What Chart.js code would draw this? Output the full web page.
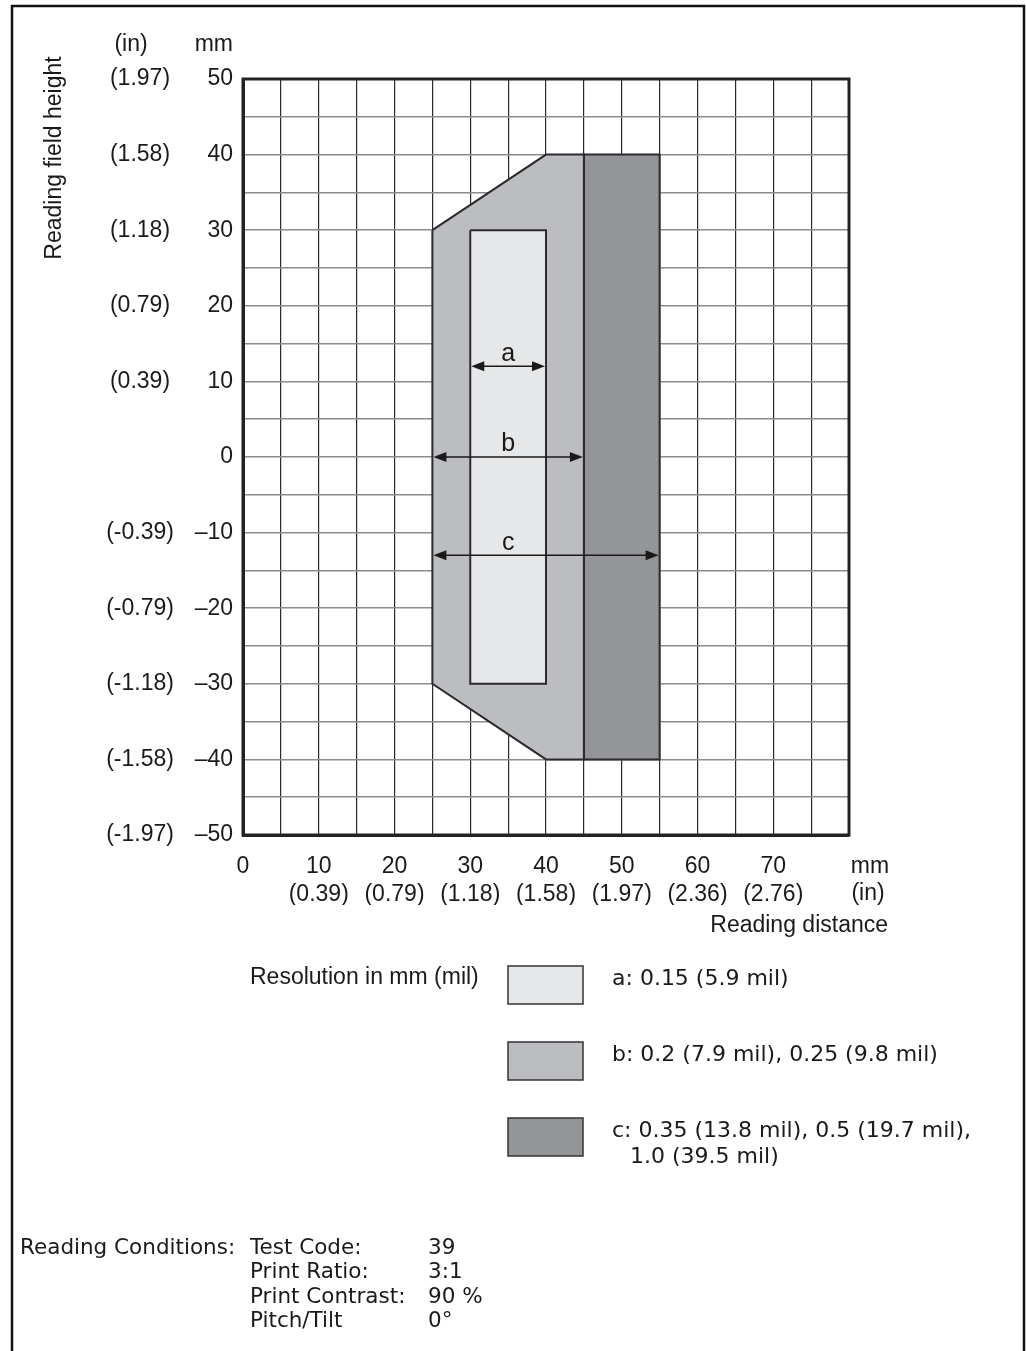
<!DOCTYPE html>
<html>
<head>
<meta charset="utf-8">
<script src="https://cdn.jsdelivr.net/npm/chart.js@4.4.0/dist/chart.umd.min.js"></script>
<style>
  html, body { margin: 0; padding: 0; background: #fff; }
  canvas { display: block; }
</style>
</head>
<body>
<canvas id="fieldChart" width="1026" height="1351"></canvas>
<script>
// reading field outlines, distance (x) / height (y) in mm
const zoneAx = [30, 40, 40, 30, 30]
const zoneAy = [30, 30, -30, -30, 30]
const zoneBx = [25, 40, 45, 45, 40, 25, 25]
const zoneBy = [30, 40, 40, -40, -40, -30, 30]
const zoneCx = [45, 55, 55, 45, 45]
const zoneCy = [40, 40, -40, -40, 40]

// width arrows drawn inside the field
const arrowNames = ['a', 'b', 'c']
const arrowFrom = [30, 25, 25]
const arrowTo = [40, 45, 55]
const arrowAt = [12, 0, -13]
const arrowNameAt = [35, 35, 35]

// tick labels
const xTickValues = [0, 10, 20, 30, 40, 50, 60, 70]
const xTickIn = ['', '(0.39)', '(0.79)', '(1.18)', '(1.58)', '(1.97)', '(2.36)', '(2.76)']
const yTickValues = [50, 40, 30, 20, 10, 0, -10, -20, -30, -40, -50]
const yTickMm = ['50', '40', '30', '20', '10', '0', '\u201310', '\u201320', '\u201330', '\u201340', '\u201350']
const yTickIn = ['(1.97)', '(1.58)', '(1.18)', '(0.79)', '(0.39)', '', '(-0.39)', '(-0.79)', '(-1.18)', '(-1.58)', '(-1.97)']

// legend and reading conditions
const zoneColors = ['#e6e7e8', '#bcbdc0', '#939598']
const legendTexts = [['a: 0.15 (5.9 mil)'], ['b: 0.2 (7.9 mil), 0.25 (9.8 mil)'], ['c: 0.35 (13.8 mil), 0.5 (19.7 mil),', '1.0 (39.5 mil)']]
const conditionNames = ['Test Code:', 'Print Ratio:', 'Print Contrast:', 'Pitch/Tilt']
const conditionValues = ['39', '3:1', '90 %', '0\u00b0']

const chartFont = '"Liberation Sans", Arial, sans-serif'
const noteFont = '"DejaVu Sans", sans-serif'
const ink = '#1a1a1a'

const toPoints = (xs, ys) => xs.map((x, i) => ({ x: x, y: ys[i] }))

const zoneDataset = (xs, ys, color) => ({
  data: toPoints(xs, ys),
  backgroundColor: color,
  borderColor: '#2b2b2b',
  borderWidth: 2,
  borderJoinStyle: 'miter',
  fill: 'shape',
  pointRadius: 0,
  tension: 0
})

function arrowHead (ctx, x, y, dir) {
  ctx.beginPath()
  ctx.moveTo(x, y)
  ctx.lineTo(x - dir * 13, y - 5)
  ctx.lineTo(x - dir * 13, y + 5)
  ctx.closePath()
  ctx.fill()
}

const extras = {
  id: 'extras',
  afterDraw (chart) {
    const { ctx, chartArea } = chart
    const xs = chart.scales.x
    const ys = chart.scales.y
    ctx.save()

    // page frame
    ctx.strokeStyle = '#111'
    ctx.lineWidth = 2.5
    ctx.beginPath()
    ctx.moveTo(12, 1351)
    ctx.lineTo(12, 6)
    ctx.lineTo(1024, 6)
    ctx.lineTo(1024, 1351)
    ctx.stroke()

    // plot frame
    ctx.lineWidth = 3
    ctx.strokeStyle = '#222'
    ctx.strokeRect(chartArea.left, chartArea.top, chartArea.right - chartArea.left, chartArea.bottom - chartArea.top)

    // arrows
    ctx.fillStyle = ink
    ctx.strokeStyle = ink
    ctx.lineWidth = 1.5
    ctx.font = '25px ' + chartFont
    ctx.textAlign = 'center'
    ctx.textBaseline = 'bottom'
    arrowNames.forEach((name, i) => {
      const x1 = xs.getPixelForValue(arrowFrom[i]) + 1
      const x2 = xs.getPixelForValue(arrowTo[i]) - 1
      const y = ys.getPixelForValue(arrowAt[i])
      ctx.beginPath()
      ctx.moveTo(x1 + 10, y)
      ctx.lineTo(x2 - 10, y)
      ctx.stroke()
      arrowHead(ctx, x1, y, -1)
      arrowHead(ctx, x2, y, 1)
      ctx.fillText(name, xs.getPixelForValue(arrowNameAt[i]), y)
    })

    // inch labels on the height axis
    ctx.font = '23px ' + chartFont
    ctx.textBaseline = 'middle'
    yTickValues.forEach((v, i) => {
      ctx.fillText(yTickIn[i], 140, ys.getPixelForValue(v))
    })
    ctx.fillText('(in)', 131, 45)
    ctx.textAlign = 'right'
    ctx.fillText('mm', 233, 45)

    // unit labels at the end of the distance axis
    ctx.textAlign = 'center'
    ctx.fillText('mm', 870, 867)
    ctx.fillText('(in)', 868, 894)
    ctx.textAlign = 'right'
    ctx.fillText('Reading distance', 888, 926)

    // height axis title
    ctx.save()
    ctx.translate(55, 158)
    ctx.rotate(-Math.PI / 2)
    ctx.textAlign = 'center'
    ctx.font = '23px ' + chartFont
    ctx.fillText('Reading field height', 0, 0)
    ctx.restore()

    // legend
    ctx.textAlign = 'left'
    ctx.fillText('Resolution in mm (mil)', 250, 978)
    ctx.font = '22px ' + noteFont
    zoneColors.forEach((color, i) => {
      const top = 966 + i * 76
      ctx.fillStyle = color
      ctx.fillRect(508, top, 75, 38)
      ctx.strokeStyle = '#333'
      ctx.lineWidth = 1.5
      ctx.strokeRect(508, top, 75, 38)
      ctx.fillStyle = ink
      legendTexts[i].forEach((line, j) => {
        ctx.fillText(line, 612 + j * 18, top + 13 + j * 26)
      })
    })

    // reading conditions
    ctx.font = '21.5px ' + noteFont
    ctx.fillText('Reading Conditions:', 20, 1248)
    conditionNames.forEach((name, i) => {
      ctx.fillText(name, 250, 1248 + i * 24.5)
      ctx.fillText(conditionValues[i], 428, 1248 + i * 24.5)
    })

    ctx.restore()
  }
}

new Chart(document.getElementById('fieldChart').getContext('2d'), {
  type: 'line',
  data: {
    datasets: [
      zoneDataset(zoneAx, zoneAy, zoneColors[0]),
      zoneDataset(zoneBx, zoneBy, zoneColors[1]),
      zoneDataset(zoneCx, zoneCy, zoneColors[2])
    ]
  },
  options: {
    responsive: false,
    animation: false,
    layout: { padding: { left: 0, top: 79, right: 177, bottom: 446 } },
    plugins: {
      legend: { display: false },
      tooltip: { enabled: false }
    },
    scales: {
      x: {
        type: 'linear',
        min: 0,
        max: 80,
        afterFit: (scale) => { scale.height = 70 },
        grid: { color: '#2a2a2a', lineWidth: 1.2, drawTicks: false },
        border: { color: '#222', width: 3 },
        ticks: {
          stepSize: 5,
          autoSkip: false,
          maxRotation: 0,
          padding: 18,
          color: ink,
          font: { family: chartFont, size: 23, lineHeight: 1.2 },
          callback: (value) => {
            const i = xTickValues.indexOf(value)
            return i < 0 ? '' : [String(value), xTickIn[i]]
          }
        }
      },
      y: {
        min: -50,
        max: 50,
        afterFit: (scale) => { scale.width = 243 },
        grid: { color: '#8c8c8c', lineWidth: 1.5, drawTicks: false },
        border: { color: '#222', width: 3 },
        ticks: {
          stepSize: 5,
          autoSkip: false,
          padding: 10,
          color: ink,
          font: { family: chartFont, size: 23 },
          callback: (value) => {
            const i = yTickValues.indexOf(value)
            return i < 0 ? '' : yTickMm[i]
          }
        }
      }
    }
  },
  plugins: [extras]
})
</script>
</body>
</html>
